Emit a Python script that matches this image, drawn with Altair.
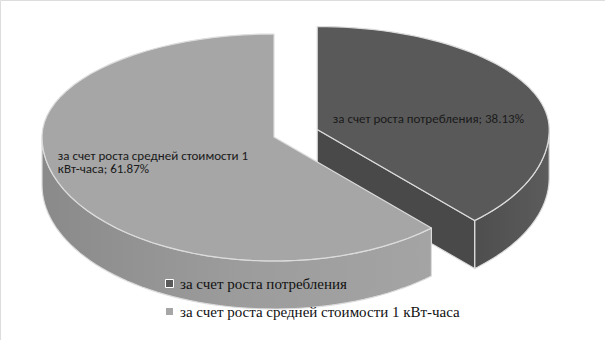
import math
import textwrap
import altair as alt
import pandas as pd

# ---- data ----
categories = ["за счет роста потребления", "за счет роста средней стоимости 1 кВт-часа"]
shares = [38.13, 61.87]
explode = [0.2, 0.0]

# ---- layout constants (pixels) ----
W, H = 605, 340
CX, CY = 274, 137          # pie centre (top face)
RX, RYB, RYF = 232, 103, 124  # horizontal radius, back / front vertical radius
DEPTH = 48
N = 60


def ry(c):
    return RYB if c > 0 else RYF


def pt(theta, r=1.0, ox=0.0, oy=0.0, drop=0.0):
    t = math.radians(theta)
    s, c = math.sin(t), math.cos(t)
    return (CX + ox + r * RX * s, CY + oy - r * ry(c) * c + drop)


def arc(a0, a1, ox, oy, drop=0.0):
    return [pt(a0 + (a1 - a0) * k / N, 1.0, ox, oy, drop) for k in range(N + 1)]


rows = []


def poly(part, pts, cat=None):
    for i, (x, y) in enumerate(pts):
        rows.append({"part": part, "i": i, "x": x, "y": y, "cat": cat})


total = sum(shares)
start = 0.0
geo = []
for cat, v, e in zip(categories, shares, explode):
    a0 = start
    a1 = start + 360.0 * v / total
    mid = (a0 + a1) / 2
    m = math.radians(mid)
    ox = e * RX * math.sin(m)
    oy = -e * ry(math.cos(m)) * math.cos(m)
    geo.append((cat, v, a0, a1, mid, ox, oy))
    start = a1

# dark (exploded) slice
cat, v, a0, a1, mid, ox, oy = geo[0]
w0, w1 = max(a0, 90), min(a1, 270)
poly("dark_wall", arc(w0, w1, ox, oy) + arc(w1, w0, ox, oy, DEPTH))
c_top = (CX + ox, CY + oy)
e_top = pt(a1, 1, ox, oy)
poly("dark_cut", [c_top, e_top, (e_top[0], e_top[1] + DEPTH), (c_top[0], c_top[1] + DEPTH)])
poly("top_0", [c_top] + arc(a0, a1, ox, oy), cat)

# light slice
cat, v, b0, b1, mid2, ox2, oy2 = geo[1]
w0, w1 = max(b0, 90), min(b1, 270)
poly("light_wall", arc(w0, w1, ox2, oy2) + arc(w1, w0, ox2, oy2, DEPTH))
poly("top_1", [(CX + ox2, CY + oy2)] + arc(b0, b1, ox2, oy2), cat)

df = pd.DataFrame(rows)

# labels
lab = []
for k, (cat, v, a0_, a1_, mid_, ox_, oy_) in enumerate(geo):
    t = math.radians(mid_)
    r = 0.57
    lx = CX + ox_ + r * RX * math.sin(t)
    ly = CY + oy_ - r * ry(math.cos(t)) * math.cos(t)
    text = "\n".join(textwrap.wrap(f"{cat}; {v:.2f}%", 34))
    lab.append({"k": k, "x": lx, "y": ly, "text": text})
ldf = pd.DataFrame(lab)

xs = alt.Scale(domain=[0, W], nice=False, zero=False)
ys = alt.Scale(domain=[0, H], nice=False, zero=False, reverse=True)
X = alt.X("x:Q", scale=xs, axis=None)
Y = alt.Y("y:Q", scale=ys, axis=None)
EDGE = "#dcdcdc"

base = alt.Chart(df)


def face(part, fill):
    return base.transform_filter(alt.datum.part == part).mark_line(
        interpolate="linear-closed", fill=fill, stroke=EDGE, strokeWidth=1.2, strokeJoin="round"
    ).encode(x=X, y=Y, order="i:Q")


dark_wall = face("dark_wall", alt.Gradient(gradient="linear", x1=0, x2=1, y1=0, y2=0,
                 stops=[alt.GradientStop(offset=0, color="#4e4e4e"),
                        alt.GradientStop(offset=1, color="#5c5c5c")]))
dark_cut = face("dark_cut", "#494949")
light_wall = face("light_wall", alt.Gradient(gradient="linear", x1=0, x2=1, y1=0, y2=0,
                  stops=[alt.GradientStop(offset=0, color="#8a8a8a"),
                         alt.GradientStop(offset=0.5, color="#9c9c9c"),
                         alt.GradientStop(offset=1, color="#a4a4a4")]))

tops = base.transform_filter(alt.FieldOneOfPredicate(field="part", oneOf=["top_0", "top_1"])).mark_line(
    interpolate="linear-closed", stroke=EDGE, strokeWidth=1.2, strokeJoin="round"
).encode(
    x=X, y=Y, order="i:Q", detail="part:N",
    fill=alt.Fill("cat:N", scale=alt.Scale(domain=categories, range=["#595959", "#a6a6a6"]),
                  legend=alt.Legend(title=None, orient="none", legendX=162, legendY=276,
                                    symbolType="square", symbolSize=64, symbolStrokeColor="#ffffff",
                                    symbolStrokeWidth=1, labelFont="Liberation Serif", labelFontSize=15,
                                    labelFontWeight="normal",
                                    labelColor="#111111", labelOffset=3, rowPadding=12, padding=0,
                                    labelLimit=500)),
)

text_font = "Carlito, Lato"
lab_dark = alt.Chart(ldf).transform_filter(alt.datum.k == 0).mark_text(
    font=text_font, fontSize=13, color="#1a1a1a", align="center", baseline="middle", dx=-12, dy=11,
    lineBreak="\n"
).encode(x=X, y=Y, text="text:N")
lab_light = alt.Chart(ldf).transform_filter(alt.datum.k == 1).mark_text(
    font=text_font, fontSize=13, color="#1a1a1a", align="left", baseline="middle", dx=-93, dy=-7,
    lineBreak="\n", lineHeight=13.5
).encode(x=X, y=Y, text="text:N")

chart = alt.layer(dark_wall, dark_cut, light_wall, tops, lab_dark, lab_light).properties(
    width=W, height=H, padding=0, autosize=alt.AutoSizeParams(type="none")
).configure_view(stroke=None).configure(background="#ffffff")

chart.save("out.html", embed_options={"renderer": "svg", "actions": False})
